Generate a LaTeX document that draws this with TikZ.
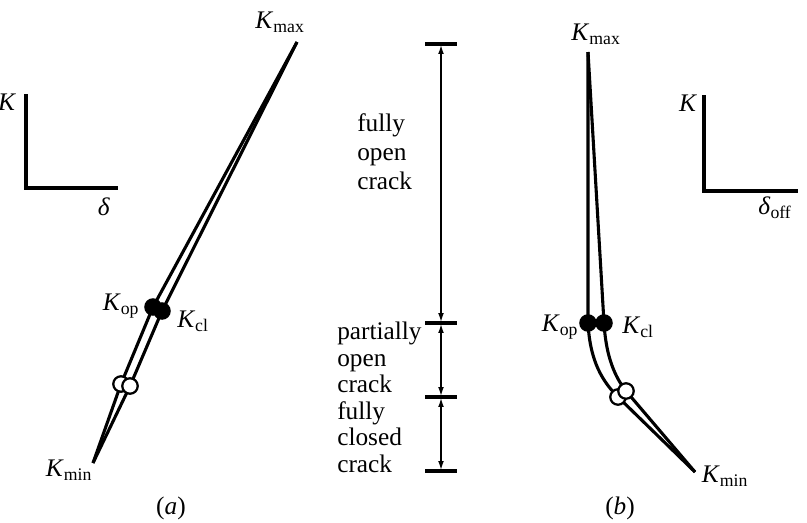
\documentclass[tikz,border=0pt]{standalone}
\usepackage{fontspec}
\setmainfont{Liberation Serif}
\usetikzlibrary{arrows.meta}

\tikzset{
  curve/.style={line width=2.2pt, line join=round},
  axis/.style={line width=2.2pt},
  bar/.style={line width=2.2pt},
  dim/.style={line width=1.5pt, {Latex[length=7pt,width=4pt]}-{Latex[length=7pt,width=4pt]}},
  dotfull/.style={circle, fill=black, inner sep=0pt, minimum size=12.5pt},
  dotopen/.style={circle, draw=black, fill=white, line width=1.6pt, inner sep=0pt, minimum size=11pt},
  crackbox/.style={anchor=south west, inner sep=0pt, align=left}
}
\newcommand{\Klab}[1]{\textit{K}\textsubscript{#1}}

\begin{document}
\begin{tikzpicture}[x=0.025cm, y=-0.025cm, every node/.style={font=\fontsize{18}{21}\selectfont}]
\useasboundingbox (0,0) rectangle (807,522);

% Оси (a)
\coordinate (aY) at (26,94);
\coordinate (aO) at (26,188);
\coordinate (aX) at (118,188);
\draw[axis] (aY) -- (aO) -- (aX);
\node (aK) at (7,102) {\textit{K}};
\node (aD) at (104,207) {\textit{δ}};

% Петля (a)
\coordinate (aTop) at (297,42);
\coordinate (aop) at (153,307);
\coordinate (acl) at (162,311);
\coordinate (ao1) at (121,384);
\coordinate (ao2) at (130,386);
\coordinate (aBot) at (93,463);
\draw[curve] (aTop) -- (aop) -- (ao1) -- (aBot);
\draw[curve] (aTop) -- (acl) -- (ao2) -- (aBot);
\node[dotfull] (aOpDot) at (aop) {};
\node[dotfull] (aClDot) at (acl) {};
\node[dotopen] (aOpen1) at (ao1) {};
\node[dotopen] (aOpen2) at (ao2) {};

\node (aKmax) at (280,22) {\Klab{max}};
\node (aKop) at (121,306) {\Klab{op}};
\node (aKcl) at (193,321) {\Klab{cl}};
\node (aKmin) at (69,470) {\Klab{min}};
\node (aCap) at (171,508) {(\textit{a})};

% Размеры в середине
\coordinate (d1) at (441,44);
\coordinate (d2) at (441,323);
\coordinate (d3) at (441,397);
\coordinate (d4) at (441,471);
\foreach \p in {d1,d2,d3,d4}
    \draw[bar] (\p) ++(-16,0) -- ++(32,0);
\draw[dim] (d1) -- (d2);
\draw[dim] (d2) -- (d3);
\draw[dim] (d3) -- (d4);

\node[crackbox, font=\fontsize{18}{20.6}\selectfont] (txtOpen) at (357,190) {fully\\open\\crack};
\node[crackbox, font=\fontsize{18}{18.9}\selectfont] (txtRest) at (337,473) {partially\\open\\crack\\fully\\closed\\crack};

% Петля (b)
\coordinate (bTop) at (588,52);
\coordinate (bop) at (588,323);
\coordinate (bcl) at (604,323);
\coordinate (bo1) at (618,397);
\coordinate (bo2) at (626,391);
\coordinate (bBot) at (695,472);
\draw[curve] (bTop) -- (bop) .. controls (590,362) and (603,382) .. (bo1) -- (bBot);
\draw[curve] (bTop) -- (bcl) .. controls (606,357) and (615,377) .. (bo2) -- (bBot);
\node[dotfull] (bOpDot) at (bop) {};
\node[dotfull] (bClDot) at (bcl) {};
\node[dotopen] (bOpen1) at (bo1) {};
\node[dotopen] (bOpen2) at (bo2) {};

\node (bKmax) at (596,34) {\Klab{max}};
\node (bKop) at (560,327) {\Klab{op}};
\node (bKcl) at (638,327) {\Klab{cl}};
\node (bKmin) at (725,476) {\Klab{min}};
\node (bCap) at (620,508) {(\textit{b})};

% Оси (b)
\coordinate (bY) at (704,95);
\coordinate (bO) at (704,191);
\coordinate (bX) at (798,191);
\draw[axis] (bY) -- (bO) -- (bX);
\node (bK) at (688,103) {\textit{K}};
\node (bD) at (775,208) {\textit{δ}\textsubscript{off}};
\end{tikzpicture}
\end{document}
